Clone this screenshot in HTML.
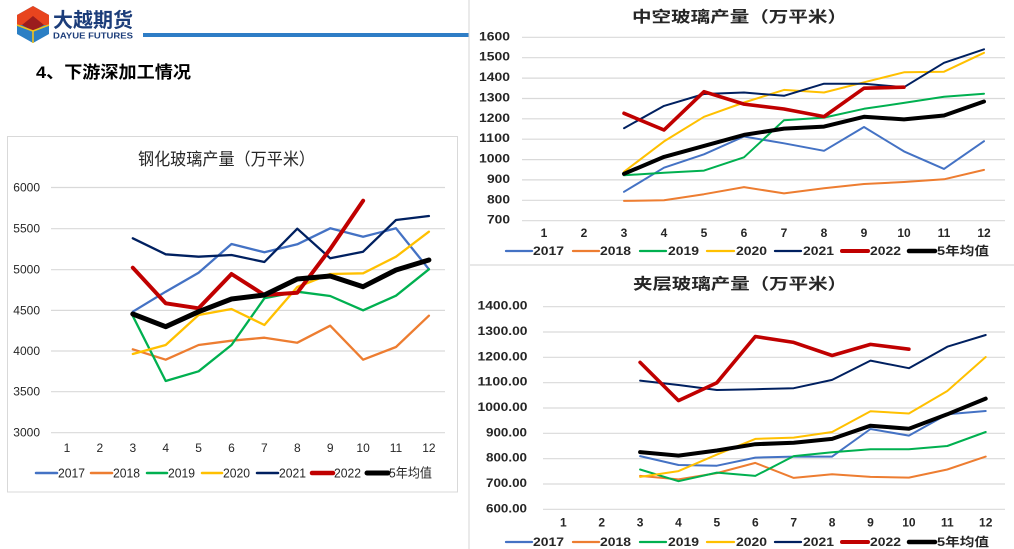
<!DOCTYPE html>
<html><head><meta charset="utf-8"><style>
html,body{margin:0;padding:0;background:#fff;}
svg{display:block;}
text{font-family:"Liberation Sans","Noto Sans CJK SC",sans-serif;}
</style></head><body>
<svg width="1014" height="549" viewBox="0 0 1014 549" xmlns="http://www.w3.org/2000/svg">
<rect width="1014" height="549" fill="#fff"/>
<!-- logo -->
<polygon points="33,6 49,15 49,34 33,43 17,34 17,15" fill="#2b7fc4"/>
<polygon points="33,6 49,15 49,25 17,25 17,15" fill="#e8441e"/>
<polygon points="33,16 44,25 33,31 22,25" fill="#9b1d1d"/>
<polyline points="17,25 33,31 49,25" fill="none" stroke="#f2c21b" stroke-width="1.6"/>
<line x1="33" y1="31" x2="33" y2="43" stroke="#f2c21b" stroke-width="1.6"/>
<text x="53" y="27" font-size="20" font-weight="bold" fill="#1c3d7a" textLength="80" lengthAdjust="spacingAndGlyphs">大越期货</text>
<text x="53" y="38.5" font-size="8.5" font-weight="bold" fill="#1c3d7a" textLength="80" lengthAdjust="spacingAndGlyphs">DAYUE FUTURES</text>
<rect x="143" y="33" width="326" height="4" fill="#2e7dc6"/>
<text x="36" y="78" font-size="17" font-weight="bold" fill="#000" textLength="155" lengthAdjust="spacingAndGlyphs">4、下游深加工情况</text>

<!-- separators -->
<line x1="469" y1="0" x2="469" y2="549" stroke="#d4d4d4" stroke-width="1"/>
<line x1="470" y1="265" x2="1014" y2="265" stroke="#d9d9d9" stroke-width="1.2"/>

<!-- LEFT CHART -->
<rect x="7.5" y="136.5" width="450" height="355.5" fill="none" stroke="#d9d9d9" stroke-width="1"/>
<text x="138" y="165" font-size="17" fill="#262626" textLength="177" lengthAdjust="spacingAndGlyphs">钢化玻璃产量（万平米）</text>
<g stroke="#d9d9d9" stroke-width="1.2">
<line x1="51" y1="187.5" x2="445" y2="187.5"/>
<line x1="51" y1="228.7" x2="445" y2="228.7"/>
<line x1="51" y1="269.7" x2="445" y2="269.7"/>
<line x1="51" y1="310.4" x2="445" y2="310.4"/>
<line x1="51" y1="351" x2="445" y2="351"/>
<line x1="51" y1="391.7" x2="445" y2="391.7"/>
<line x1="51" y1="432.7" x2="445" y2="432.7"/>
</g>
<g font-size="12" fill="#262626" text-anchor="end" dominant-baseline="central">
<text x="40" y="187.5">6000</text>
<text x="40" y="228.7">5500</text>
<text x="40" y="269.7">5000</text>
<text x="40" y="310.4">4500</text>
<text x="40" y="351">4000</text>
<text x="40" y="391.7">3500</text>
<text x="40" y="432.7">3000</text>
</g>
<g font-size="12" fill="#262626" text-anchor="middle" dominant-baseline="central">
<text x="67" y="448">1</text><text x="99.9" y="448">2</text><text x="132.8" y="448">3</text><text x="165.7" y="448">4</text>
<text x="198.6" y="448">5</text><text x="231.5" y="448">6</text><text x="264.4" y="448">7</text><text x="297.3" y="448">8</text>
<text x="330.2" y="448">9</text><text x="363.1" y="448">10</text><text x="396" y="448">11</text><text x="428.9" y="448">12</text>
</g>
<g fill="none" stroke-linejoin="round" stroke-linecap="round">
<polyline stroke="#4472c4" stroke-width="2.3" points="132.8,311.7 165.7,291.7 198.6,272.7 231.5,244 264.4,252.3 297.3,244.3 330.2,228.3 363.1,236.7 396,228.3 428.9,269.2"/>
<polyline stroke="#ed7d31" stroke-width="2.3" points="132.8,349.3 165.7,359.7 198.6,345 231.5,340.7 264.4,337.7 297.3,342.7 330.2,325.7 363.1,359.7 396,347 428.9,315.7"/>
<polyline stroke="#00b050" stroke-width="2.3" points="132.8,316 165.7,381 198.6,371.3 231.5,345 264.4,298.3 297.3,291.7 330.2,296 363.1,310.3 396,295.7 428.9,269.3"/>
<polyline stroke="#ffc000" stroke-width="2.3" points="132.8,354 165.7,345 198.6,315 231.5,309 264.4,325 297.3,287 330.2,274 363.1,273.3 396,256.7 428.9,231.7"/>
<polyline stroke="#002060" stroke-width="2.3" points="132.8,238.3 165.7,254.3 198.6,256.7 231.5,255 264.4,262 297.3,228.7 330.2,258.3 363.1,251.7 396,220 428.9,216"/>
<polyline stroke="#c00000" stroke-width="4" points="132.8,267.7 165.7,303.3 198.6,308.3 231.5,274 264.4,295 297.3,292.7 330.2,249 363.1,200.7"/>
<polyline stroke="#000" stroke-width="5" points="132.8,314 165.7,326.7 198.6,311.7 231.5,299 264.4,295 297.3,279 330.2,276 363.1,286.7 396,270 428.9,260"/>
</g>
<g stroke-linecap="round">
<line x1="36" y1="473" x2="57" y2="473" stroke="#4472c4" stroke-width="2.5"/>
<line x1="91" y1="473" x2="112" y2="473" stroke="#ed7d31" stroke-width="2.5"/>
<line x1="147" y1="473" x2="167" y2="473" stroke="#00b050" stroke-width="2.5"/>
<line x1="202" y1="473" x2="222" y2="473" stroke="#ffc000" stroke-width="2.5"/>
<line x1="257" y1="473" x2="278" y2="473" stroke="#002060" stroke-width="2.5"/>
<line x1="312" y1="473" x2="333" y2="473" stroke="#c00000" stroke-width="4.5"/>
<line x1="367" y1="473" x2="388" y2="473" stroke="#000" stroke-width="5"/>
</g>
<g font-size="13" fill="#262626" dominant-baseline="central">
<text x="58" y="473" textLength="27" lengthAdjust="spacingAndGlyphs">2017</text>
<text x="113" y="473" textLength="27" lengthAdjust="spacingAndGlyphs">2018</text>
<text x="168" y="473" textLength="27" lengthAdjust="spacingAndGlyphs">2019</text>
<text x="223" y="473" textLength="27" lengthAdjust="spacingAndGlyphs">2020</text>
<text x="279" y="473" textLength="27" lengthAdjust="spacingAndGlyphs">2021</text>
<text x="334" y="473" textLength="27" lengthAdjust="spacingAndGlyphs">2022</text>
<text x="389" y="473" textLength="43" lengthAdjust="spacingAndGlyphs">5年均值</text>
</g>

<!-- TOP RIGHT CHART -->
<text x="632" y="22" font-size="15.5" font-weight="bold" fill="#262626" textLength="215" lengthAdjust="spacingAndGlyphs">中空玻璃产量（万平米）</text>
<g stroke="#d9d9d9" stroke-width="1.2">
<line x1="522" y1="37.3" x2="1005" y2="37.3"/>
<line x1="522" y1="57.7" x2="1005" y2="57.7"/>
<line x1="522" y1="78.1" x2="1005" y2="78.1"/>
<line x1="522" y1="98.5" x2="1005" y2="98.5"/>
<line x1="522" y1="118.8" x2="1005" y2="118.8"/>
<line x1="522" y1="139.2" x2="1005" y2="139.2"/>
<line x1="522" y1="159.6" x2="1005" y2="159.6"/>
<line x1="522" y1="179.9" x2="1005" y2="179.9"/>
<line x1="522" y1="200.3" x2="1005" y2="200.3"/>
<line x1="522" y1="220.7" x2="1005" y2="220.7"/>
</g>
<g font-size="11.5" font-weight="bold" fill="#262626" dominant-baseline="central">
<text x="479" y="37.3" textLength="31" lengthAdjust="spacingAndGlyphs">1600</text>
<text x="479" y="57.7" textLength="31" lengthAdjust="spacingAndGlyphs">1500</text>
<text x="479" y="78.1" textLength="31" lengthAdjust="spacingAndGlyphs">1400</text>
<text x="479" y="98.5" textLength="31" lengthAdjust="spacingAndGlyphs">1300</text>
<text x="479" y="118.8" textLength="31" lengthAdjust="spacingAndGlyphs">1200</text>
<text x="479" y="139.2" textLength="31" lengthAdjust="spacingAndGlyphs">1100</text>
<text x="479" y="159.6" textLength="31" lengthAdjust="spacingAndGlyphs">1000</text>
<text x="487" y="179.9" textLength="23" lengthAdjust="spacingAndGlyphs">900</text>
<text x="487" y="200.3" textLength="23" lengthAdjust="spacingAndGlyphs">800</text>
<text x="487" y="220.7" textLength="23" lengthAdjust="spacingAndGlyphs">700</text>
</g>
<g font-size="12" font-weight="bold" fill="#262626" text-anchor="middle" dominant-baseline="central">
<text x="544" y="233">1</text><text x="584" y="233">2</text><text x="624" y="233">3</text><text x="664" y="233">4</text>
<text x="704" y="233">5</text><text x="744" y="233">6</text><text x="784" y="233">7</text><text x="824" y="233">8</text>
<text x="864" y="233">9</text><text x="904" y="233">10</text><text x="944" y="233">11</text><text x="984" y="233">12</text>
</g>
<g fill="none" stroke-linejoin="round" stroke-linecap="round">
<polyline stroke="#4472c4" stroke-width="2" points="624,191.8 664,167.7 704,154.3 744,136.5 784,143.3 824,150.8 864,127 904,151.4 944,168.9 984,141.2"/>
<polyline stroke="#ed7d31" stroke-width="2" points="624,200.9 664,200.3 704,194.2 744,187.1 784,193.4 824,188.3 864,184 904,182 944,179.3 984,169.9"/>
<polyline stroke="#00b050" stroke-width="2" points="624,175.3 664,172.8 704,170.6 744,157.3 784,120.2 824,117.6 864,108.8 904,102.9 944,96.8 984,93.7"/>
<polyline stroke="#ffc000" stroke-width="2" points="624,171.8 664,141.4 704,116.8 744,102.5 784,89.9 824,92.5 864,82.3 904,72.3 944,71.7 984,52.8"/>
<polyline stroke="#002060" stroke-width="2" points="624,128.2 664,105.9 704,94 744,92.5 784,95.8 824,83.7 864,83.7 904,87.2 944,62.8 984,49.3"/>
<polyline stroke="#c00000" stroke-width="3.6" points="624,113.3 664,130 704,91.7 744,104.1 784,109 824,116.6 864,88.2 904,87.2"/>
<polyline stroke="#000" stroke-width="4" points="624,173.8 664,156.9 704,145.9 744,134.9 784,128.6 824,126.6 864,116.8 904,119.4 944,115.5 984,101.5"/>
</g>
<g stroke-linecap="round">
<line x1="506" y1="251" x2="532" y2="251" stroke="#4472c4" stroke-width="2.3"/>
<line x1="573" y1="251" x2="599" y2="251" stroke="#ed7d31" stroke-width="2.3"/>
<line x1="640" y1="251" x2="666" y2="251" stroke="#00b050" stroke-width="2.3"/>
<line x1="707" y1="251" x2="734" y2="251" stroke="#ffc000" stroke-width="2.3"/>
<line x1="775" y1="251" x2="801" y2="251" stroke="#002060" stroke-width="2.3"/>
<line x1="842" y1="251" x2="868" y2="251" stroke="#c00000" stroke-width="4"/>
<line x1="909" y1="251" x2="935" y2="251" stroke="#000" stroke-width="4.5"/>
</g>
<g font-size="12" font-weight="bold" fill="#262626" dominant-baseline="central">
<text x="533" y="251" textLength="31" lengthAdjust="spacingAndGlyphs">2017</text>
<text x="600" y="251" textLength="31" lengthAdjust="spacingAndGlyphs">2018</text>
<text x="668" y="251" textLength="31" lengthAdjust="spacingAndGlyphs">2019</text>
<text x="736" y="251" textLength="31" lengthAdjust="spacingAndGlyphs">2020</text>
<text x="803" y="251" textLength="31" lengthAdjust="spacingAndGlyphs">2021</text>
<text x="870" y="251" textLength="31" lengthAdjust="spacingAndGlyphs">2022</text>
<text x="937" y="251" textLength="52" lengthAdjust="spacingAndGlyphs">5年均值</text>
</g>

<!-- BOTTOM RIGHT CHART -->
<text x="633" y="289" font-size="15.5" font-weight="bold" fill="#262626" textLength="214" lengthAdjust="spacingAndGlyphs">夹层玻璃产量（万平米）</text>
<g stroke="#d9d9d9" stroke-width="1.2">
<line x1="543" y1="306.7" x2="1005" y2="306.7"/>
<line x1="543" y1="332" x2="1005" y2="332"/>
<line x1="543" y1="357.3" x2="1005" y2="357.3"/>
<line x1="543" y1="382.7" x2="1005" y2="382.7"/>
<line x1="543" y1="408" x2="1005" y2="408"/>
<line x1="543" y1="433.3" x2="1005" y2="433.3"/>
<line x1="543" y1="458.7" x2="1005" y2="458.7"/>
<line x1="543" y1="484" x2="1005" y2="484"/>
<line x1="543" y1="509.3" x2="1005" y2="509.3"/>
</g>
<g font-size="11.5" font-weight="bold" fill="#262626" dominant-baseline="central">
<text x="477.5" y="306.7" textLength="50" lengthAdjust="spacingAndGlyphs">1400.00</text>
<text x="477.5" y="332" textLength="50" lengthAdjust="spacingAndGlyphs">1300.00</text>
<text x="477.5" y="357.3" textLength="50" lengthAdjust="spacingAndGlyphs">1200.00</text>
<text x="477.5" y="382.7" textLength="50" lengthAdjust="spacingAndGlyphs">1100.00</text>
<text x="477.5" y="408" textLength="50" lengthAdjust="spacingAndGlyphs">1000.00</text>
<text x="486" y="433.3" textLength="41" lengthAdjust="spacingAndGlyphs">900.00</text>
<text x="486" y="458.7" textLength="41" lengthAdjust="spacingAndGlyphs">800.00</text>
<text x="486" y="484" textLength="41" lengthAdjust="spacingAndGlyphs">700.00</text>
<text x="486" y="509.3" textLength="41" lengthAdjust="spacingAndGlyphs">600.00</text>
</g>
<g font-size="12" font-weight="bold" fill="#262626" text-anchor="middle" dominant-baseline="central">
<text x="563.3" y="522.5">1</text><text x="601.7" y="522.5">2</text><text x="640.1" y="522.5">3</text><text x="678.5" y="522.5">4</text>
<text x="716.9" y="522.5">5</text><text x="755.3" y="522.5">6</text><text x="793.7" y="522.5">7</text><text x="832.1" y="522.5">8</text>
<text x="870.5" y="522.5">9</text><text x="908.9" y="522.5">10</text><text x="947.3" y="522.5">11</text><text x="985.7" y="522.5">12</text>
</g>
<g fill="none" stroke-linejoin="round" stroke-linecap="round">
<polyline stroke="#4472c4" stroke-width="2" points="640.1,456.1 678.5,465 716.9,465.7 755.3,457.6 793.7,456.6 832.1,456.6 870.5,429 908.9,435.6 947.3,414.3 985.7,411"/>
<polyline stroke="#ed7d31" stroke-width="2" points="640.1,475.9 678.5,479.4 716.9,473.1 755.3,462.9 793.7,477.9 832.1,474.3 870.5,476.9 908.9,477.6 947.3,469.5 985.7,456.6"/>
<polyline stroke="#00b050" stroke-width="2" points="640.1,469.5 678.5,481.2 716.9,472.6 755.3,475.9 793.7,456.1 832.1,452.3 870.5,449.3 908.9,449.3 947.3,446 985.7,432"/>
<polyline stroke="#ffc000" stroke-width="2" points="640.1,476.9 678.5,471.1 716.9,454.6 755.3,438.9 793.7,437.6 832.1,432 870.5,411.3 908.9,413.5 947.3,391 985.7,357"/>
<polyline stroke="#002060" stroke-width="2" points="640.1,380.6 678.5,385 716.9,390 755.3,389.2 793.7,388.2 832.1,379.9 870.5,360.6 908.9,368.2 947.3,346.7 985.7,335"/>
<polyline stroke="#c00000" stroke-width="3.6" points="640.1,362.4 678.5,400.6 716.9,382.7 755.3,336.5 793.7,342.4 832.1,355.5 870.5,344.4 908.9,349.2"/>
<polyline stroke="#000" stroke-width="4" points="640.1,452.1 678.5,455.6 716.9,450.5 755.3,444.2 793.7,442.7 832.1,438.9 870.5,425.7 908.9,428.8 947.3,414.3 985.7,398.6"/>
</g>
<g stroke-linecap="round">
<line x1="506" y1="542" x2="532" y2="542" stroke="#4472c4" stroke-width="2.3"/>
<line x1="573" y1="542" x2="599" y2="542" stroke="#ed7d31" stroke-width="2.3"/>
<line x1="640" y1="542" x2="666" y2="542" stroke="#00b050" stroke-width="2.3"/>
<line x1="707" y1="542" x2="734" y2="542" stroke="#ffc000" stroke-width="2.3"/>
<line x1="775" y1="542" x2="801" y2="542" stroke="#002060" stroke-width="2.3"/>
<line x1="842" y1="542" x2="868" y2="542" stroke="#c00000" stroke-width="4"/>
<line x1="909" y1="542" x2="935" y2="542" stroke="#000" stroke-width="4.5"/>
</g>
<g font-size="12" font-weight="bold" fill="#262626" dominant-baseline="central">
<text x="533" y="542" textLength="31" lengthAdjust="spacingAndGlyphs">2017</text>
<text x="600" y="542" textLength="31" lengthAdjust="spacingAndGlyphs">2018</text>
<text x="668" y="542" textLength="31" lengthAdjust="spacingAndGlyphs">2019</text>
<text x="736" y="542" textLength="31" lengthAdjust="spacingAndGlyphs">2020</text>
<text x="803" y="542" textLength="31" lengthAdjust="spacingAndGlyphs">2021</text>
<text x="870" y="542" textLength="31" lengthAdjust="spacingAndGlyphs">2022</text>
<text x="937" y="542" textLength="52" lengthAdjust="spacingAndGlyphs">5年均值</text>
</g>
</svg>
</body></html>
